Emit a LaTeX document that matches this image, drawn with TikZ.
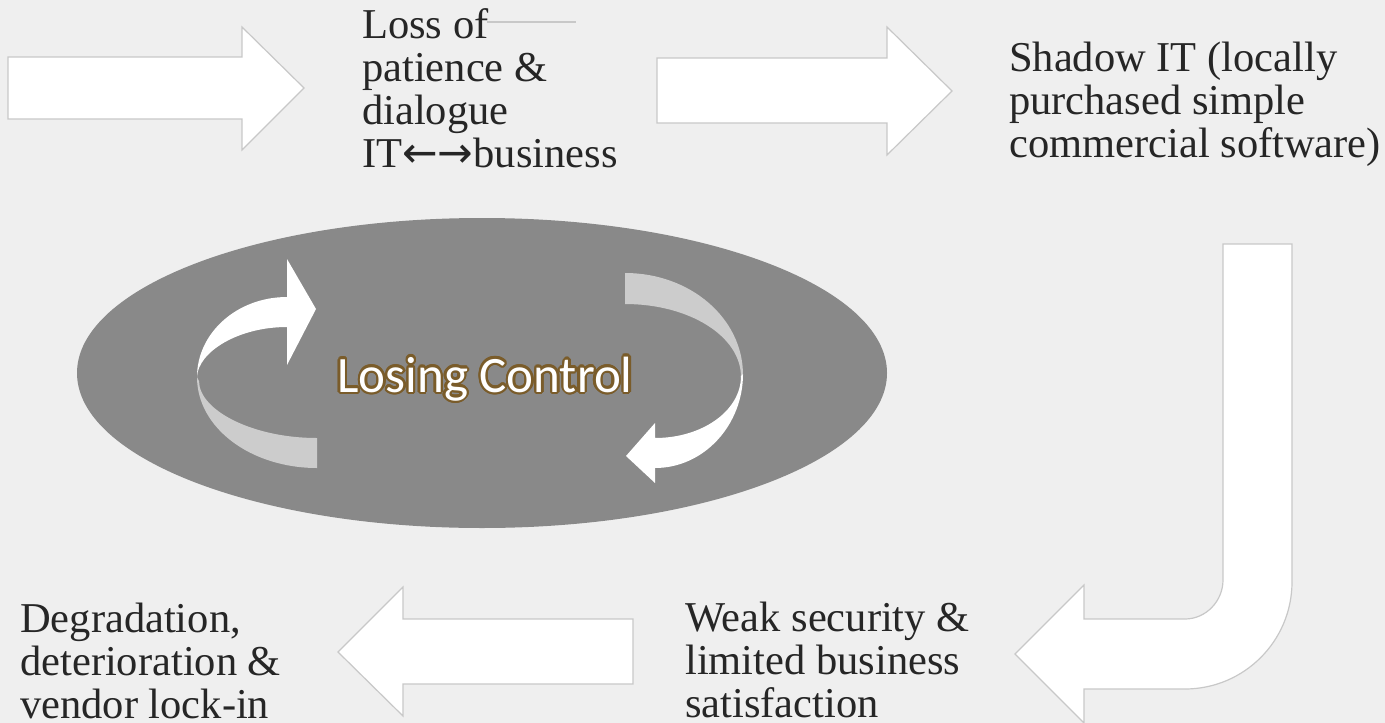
\documentclass[tikz,border=0pt]{standalone}
\usepackage{fontspec}
\setmainfont{Liberation Serif}
\newfontfamily\calib{Carlito}
\newfontfamily\arrfont{DejaVu Sans}
\definecolor{bg}{HTML}{EFEFEF}
\definecolor{ellgray}{HTML}{898989}
\definecolor{bandgray}{HTML}{CCCCCC}
\definecolor{arrowline}{HTML}{C8C8C8}
\definecolor{txt}{HTML}{262626}
\definecolor{lcout}{HTML}{7A5C2A}
\begin{document}
\begin{tikzpicture}[x=1pt,y=-1pt,
  blockarrow/.style={fill=white, draw=arrowline, line width=1.2pt, line join=miter},
  label/.style={anchor=base west, align=left, inner sep=0pt, text=txt, font=\fontsize{42.5}{43}\selectfont},
  lc/.style={anchor=base, inner sep=0pt, font=\calib\fontsize{51}{51}\selectfont},
  thinline/.style={draw=arrowline, line width=1.5pt}
]
\fill[bg] (0,0) rectangle (1385,723);
\useasboundingbox (0,0) rectangle (1385,723);

% straight block arrows
\draw[blockarrow] (8,57) -- (242,57) -- (242,27) -- (304,88) -- (242,150) -- (242,119) -- (8,119) -- cycle;
\draw[blockarrow] (657,58) -- (887,58) -- (887,27) -- (952,91) -- (887,155) -- (887,123) -- (657,123) -- cycle;
\draw[blockarrow] (633,619) -- (403,619) -- (403,587) -- (338,652) -- (403,716) -- (403,684) -- (633,684) -- cycle;
% J-shaped arrow
\draw[blockarrow] (1223,244) -- (1292,244) -- (1292,582)
  .. controls (1292,641) and (1244,689) .. (1185,689) -- (1084,689) -- (1084,723)
  -- (1015,654) -- (1084,585) -- (1084,619) -- (1185,619)
  .. controls (1206,619) and (1223,601) .. (1223,580) -- cycle;

% ellipse
\fill[ellgray] (482,373) ellipse [x radius=405pt, y radius=155pt];

% left circular arrow
\fill[bandgray] (197,377) .. controls (197,428) and (251,468) .. (317,468) -- (317,438)
  .. controls (252,438) and (199,410) .. (199,381) -- cycle;
\fill[white] (287,297) -- (287,259) -- (316,309) -- (287,365) -- (287,327)
  .. controls (238,327) and (198,352) .. (197,377)
  .. controls (197,333) and (237,297) .. (287,297) -- cycle;

% right circular arrow
\fill[bandgray] (625,273) .. controls (690,273) and (743,318) .. (743,375)
  -- (741,377) .. controls (741,336) and (689,304) .. (625,304) -- cycle;
\fill[white] (743,374) .. controls (743,425) and (704,468) .. (655,468) -- (655,483)
  -- (626,456) -- (655,423) -- (655,438)
  .. controls (702,438) and (741,411) .. (741,376) -- cycle;

% Losing Control with outline
\foreach \a in {0,22.5,...,337.5}
  \path (485,392) ++(\a:2.4) node[lc, text=lcout] {Losing Control};
\node[lc, text=white] (lc) at (485,392) {Losing Control};

% text labels (base anchor = last line baseline)
\node[label] (t1) at (362,167) {Loss of\\patience \&\\dialogue\\IT{\arrfont ←→}business};
\node[label] (t2) at (1009,157) {Shadow IT (locally\\purchased simple\\commercial software)};
\node[label] (t3) at (685,717) {Weak security \&\\limited business\\satisfaction};
\node[label] (t4) at (20,718) {Degradation,\\deterioration \&\\vendor lock-in};

% thin line
\coordinate (l1) at (487,22);
\coordinate (l2) at (576,22);
\draw[thinline] (l1) -- (l2);
\end{tikzpicture}
\end{document}
